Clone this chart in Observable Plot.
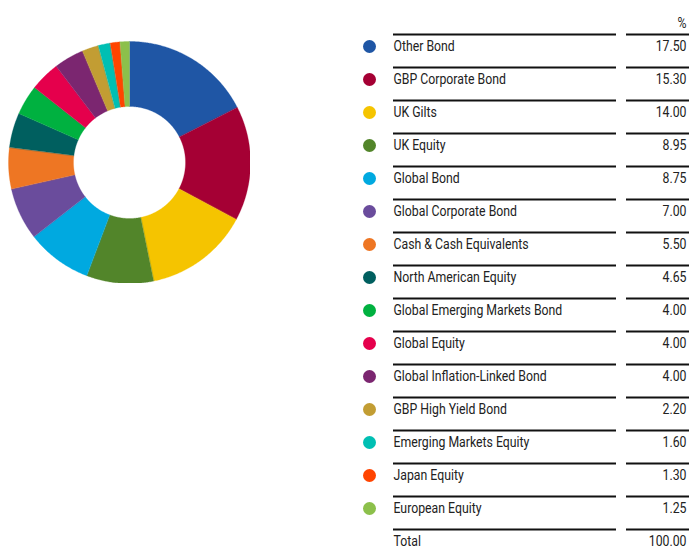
<!DOCTYPE html>
<html>
<head>
<meta charset="utf-8">
<script src="https://cdn.jsdelivr.net/npm/d3@7"></script>
<script src="https://cdn.jsdelivr.net/npm/@observablehq/plot@0.6"></script>
<style>
  html, body { margin: 0; padding: 0; background: #fff; }
  #wrap { position: relative; width: 689px; height: 548px; overflow: hidden; }
  #donut { position: absolute; left: 8px; top: 41px; }
  #table { position: absolute; left: 350px; top: 0px; }
</style>
</head>
<body>
<div id="wrap"><div id="donut"></div><div id="table"></div></div>
<script>
const categories = [
  "Other Bond", "GBP Corporate Bond", "UK Gilts", "UK Equity", "Global Bond",
  "Global Corporate Bond", "Cash & Cash Equivalents", "North American Equity",
  "Global Emerging Markets Bond", "Global Equity", "Global Inflation-Linked Bond",
  "GBP High Yield Bond", "Emerging Markets Equity", "Japan Equity", "European Equity"
];
const values = [17.50, 15.30, 14.00, 8.95, 8.75, 7.00, 5.50, 4.65, 4.00, 4.00, 4.00, 2.20, 1.60, 1.30, 1.25];
const colors = [
  "#1f56a5", "#a50034", "#f5c400", "#52852a", "#00a9e0",
  "#6a4c9c", "#ee7623", "#005f5f", "#00b140", "#e5004c",
  "#7b2670", "#c29d33", "#00bfb3", "#ff4400", "#8cc04b"
];
const headerLabel = "%";
const totalLabel = "Total";
const totalValue = 100.00;

const font = "Roboto, 'Liberation Sans', sans-serif";

// ---- Donut: slices built from cumulative values, drawn through x/y scales
const innerRatio = 0.463;
const total = d3.sum(values);
const slicePts = [];
let cum = 0;
categories.forEach((name, i) => {
  const a0 = cum / total * 2 * Math.PI;
  cum += values[i];
  const a1 = cum / total * 2 * Math.PI;
  const n = Math.max(4, Math.ceil((a1 - a0) / (Math.PI / 360)));
  for (let k = 0; k <= n; k++) {
    const a = a0 + (a1 - a0) * k / n;
    slicePts.push({name, x: Math.sin(a), y: Math.cos(a)});
  }
  for (let k = n; k >= 0; k--) {
    const a = a0 + (a1 - a0) * k / n;
    slicePts.push({name, x: innerRatio * Math.sin(a), y: innerRatio * Math.cos(a)});
  }
});

const donut = Plot.plot({
  width: 242, height: 242,
  margin: 0,
  x: {domain: [-1, 1], axis: null},
  y: {domain: [-1, 1], axis: null},
  color: {domain: categories, range: colors},
  marks: [
    Plot.line(slicePts, {x: "x", y: "y", z: "name", fill: "name", stroke: "name", strokeWidth: 0.3, curve: "linear-closed"})
  ]
});
document.getElementById("donut").appendChild(donut);

// ---- Table legend
const rows = categories.map((name, i) => ({i, name, value: values[i]}));
const allRows = rows.concat([{i: categories.length, name: totalLabel, value: totalValue}]);
const col = {dot: 19, label: 43, ruleA2: 266, ruleB1: 276, ruleB2: 339, value: 336};

const table = Plot.plot({
  width: 339, height: 548,
  margin: 0,
  x: {type: "linear", domain: [0, 339], range: [0, 339], axis: null},
  y: {type: "linear", domain: [0, 16], range: [34, 562], axis: null},
  color: {domain: categories, range: colors},
  style: {fontFamily: font},
  marks: [
    Plot.ruleY(allRows, {y: "i", x1: col.label, x2: col.ruleA2, stroke: "#111", strokeWidth: 2}),
    Plot.ruleY(allRows, {y: "i", x1: col.ruleB1, x2: col.ruleB2, stroke: "#111", strokeWidth: 2}),
    Plot.dot(rows, {x: () => col.dot, y: "i", dy: 12, r: 6.5, fill: "name", stroke: null}),
    Plot.text(allRows, {x: () => col.label, y: "i", dy: 11.5, text: "name", textAnchor: "start", fontSize: 15.5, fontWeight: 400, fill: "#222", fontFamily: font}),
    Plot.text(allRows, {x: () => col.value, y: "i", dy: 11.5, text: d => d.value.toFixed(2), textAnchor: "end", fontSize: 15.5, fontWeight: 400, fill: "#222", fontFamily: font}),
    Plot.text([headerLabel], {x: () => col.value, y: () => 0, dy: -11, text: d => d, textAnchor: "end", fontSize: 15.5, fontWeight: 400, fill: "#222", fontFamily: font})
  ]
});
document.getElementById("table").appendChild(table);

// Condense the glyphs horizontally to match the narrow typeface of the reference
const texts = Array.from(table.querySelectorAll("text"));
const probe = texts.find(t => t.textContent === "Global Emerging Markets Bond");
let factor = 0.8;
if (probe && probe.getComputedTextLength) {
  const len = probe.getComputedTextLength();
  if (len > 0) factor = 169 / len;
}
texts.forEach(t => {
  const tr = t.getAttribute("transform") || "";
  t.setAttribute("transform", tr + ` scale(${factor},1)`);
});
</script>
</body>
</html>
